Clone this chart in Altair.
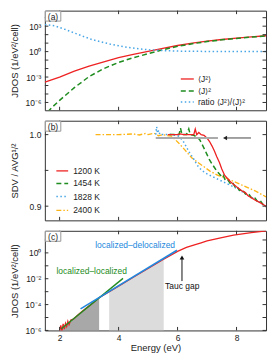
import altair as alt
import pandas as pd

FONT = "Liberation Sans"
W, H = 222, 100
TK = 3.5
FRAME = "#333333"

RED = "#ee2222"
GREEN = "#1e8c1e"
LBLUE = "#48a6e6"
YELLOW = "#fdb515"
CBLUE = "#2288dd"
CGREEN = "#228b22"

x_dom = [1.5, 9.0]
x_ticks = [2, 4, 6, 8]

# ---------------- panel (a) : log10 values ----------------
a_j2_x = [1.5, 1.75, 2.0, 2.5, 3.0, 3.5, 4.0, 4.5, 5.0, 5.5, 6.0, 6.5, 7.0, 7.5, 8.0, 8.5, 9.0]
a_j2_e = [-3.6, -3.3, -3.0, -2.3, -1.72, -1.2, -0.72, -0.33, 0.02, 0.38, 0.72, 1.0, 1.23, 1.43, 1.58, 1.74, 1.87]
a_jsq_x = [1.6, 1.75, 2.0, 2.5, 3.0, 3.5, 4.0, 4.5, 5.0, 5.5, 6.0, 6.5, 7.0, 7.5, 8.0, 8.5, 9.0]
a_jsq_e = [-7.1, -6.55, -5.75, -4.25, -2.95, -2.0, -1.28, -0.72, -0.25, 0.22, 0.62, 0.93, 1.18, 1.39, 1.55, 1.71, 1.85]
a_rat_x = [1.5, 1.85, 2.2, 2.5, 2.8, 3.1, 3.4, 3.7, 4.0, 4.3, 4.7, 5.0, 5.5, 6.0, 7.0, 8.0, 9.0]
a_rat_e = [3.2, 3.03, 2.6, 2.2, 1.8, 1.42, 1.15, 0.9, 0.7, 0.5, 0.32, 0.22, 0.12, 0.06, 0.02, 0.01, 0.0]
a_labels = ["⟨J²⟩", "⟨J⟩²", "ratio ⟨J²⟩/⟨J⟩²"]
a_leg_e = [-3.23, -4.64, -5.94]

# ---------------- panel (b) ----------------
b_labels = ["1200 K", "1454 K", "1828 K", "2400 K"]
b_1200_x = [5.67, 5.9, 6.0, 6.1, 6.2, 6.3, 6.45, 6.55, 6.6, 6.65, 6.72, 6.8, 6.9, 7.0, 7.08, 7.17,
            7.25, 7.33, 7.42, 7.5, 7.6, 7.71, 7.82, 8.0, 8.2, 8.3, 8.38, 8.5, 8.65, 8.8, 9.0]
b_1200_y = [1.0, 1.0, 1.0, 1.001, 1.0, 1.0, 1.0, 1.0, 1.0077, 1.0, 1.003, 1.0, 0.999, 0.995, 0.9907, 0.984,
            0.977, 0.969, 0.961, 0.952, 0.943, 0.938, 0.933, 0.927, 0.921, 0.919, 0.915, 0.912, 0.908, 0.905, 0.900]
b_1454_x = [5.73, 5.95, 6.05, 6.1, 6.15, 6.3, 6.38, 6.43, 6.55, 6.65, 6.75, 6.85, 6.92, 7.0, 7.08, 7.17,
            7.25, 7.33, 7.42, 7.5, 7.55, 7.62, 7.7, 7.78, 7.85, 7.95, 8.0, 8.1, 8.2, 8.3, 8.4, 8.5,
            8.6, 8.7, 8.8, 8.9, 9.0]
b_1454_y = [1.0, 1.0, 1.0, 1.009, 1.0, 1.0, 1.008, 1.0, 0.999, 0.997, 0.993, 0.985, 0.979, 0.972, 0.965, 0.959,
            0.954, 0.949, 0.945, 0.941, 0.943, 0.936, 0.937, 0.932, 0.934, 0.927, 0.928, 0.922, 0.923, 0.917, 0.918, 0.912,
            0.913, 0.907, 0.908, 0.902, 0.899]
b_1828_x = [5.26, 5.29, 5.32, 5.36, 5.4, 5.6, 5.8, 6.02, 6.1, 6.19, 6.27, 6.35, 6.43, 6.52, 6.6, 6.69,
            6.8, 6.92, 7.05, 7.2, 7.4, 7.6, 7.8, 8.0, 8.2, 8.4, 8.6, 8.8, 9.0]
b_1828_y = [1.0, 1.011, 1.002, 1.006, 1.0, 1.0, 1.0, 0.998, 0.995, 0.991, 0.985, 0.979, 0.973, 0.968, 0.962, 0.956,
            0.951, 0.947, 0.944, 0.941, 0.937, 0.933, 0.929, 0.925, 0.920, 0.915, 0.910, 0.905, 0.900]
b_2400_x = [3.22, 3.6, 4.0, 4.3, 4.5, 4.7, 4.9, 5.0, 5.2, 5.35, 5.5, 5.6, 5.79, 6.02, 6.24, 6.47,
            6.69, 6.9, 7.1, 7.37, 7.6, 7.82, 8.1, 8.38, 8.65, 9.0]
b_2400_y = [1.0, 1.0, 1.0, 1.0005, 1.001, 0.9995, 1.0015, 1.0, 1.002, 0.9985, 1.0, 0.999, 0.998, 0.989, 0.979, 0.968,
            0.961, 0.955, 0.949, 0.943, 0.940, 0.936, 0.931, 0.926, 0.921, 0.913]
b_leg_y = [0.9493, 0.9318, 0.9134, 0.8940]
b_bar_x = [5.26, 7.37]
b_bar_y = 0.9953
b_arrow_x = [7.54, 8.49]

# ---------------- panel (c) : log10 values ----------------
c_x = [1.97, 2.0, 2.04, 2.08, 2.12, 2.16, 2.2, 2.24, 2.28, 2.32, 2.38, 2.45, 2.5, 2.6, 2.8, 3.0, 3.2, 3.34,
       3.6, 4.0, 4.5, 5.0, 5.5, 6.0, 6.3, 6.6, 6.8, 7.0, 7.5, 7.9, 8.5, 9.0]
c_e = [-6.3, -6.1, -5.6, -6.05, -5.5, -5.9, -5.45, -5.7, -5.3, -5.55, -5.2, -5.15, -5.05, -4.85, -4.45, -4.1, -3.75, -3.47,
       -3.12, -2.57, -1.89, -1.21, -0.53, 0.12, 0.42, 0.64, 0.78, 0.92, 1.18, 1.38, 1.56, 1.7]
c_dark_x = [2.0, 2.4, 2.8, 3.0, 3.34]
c_dark_e = [-6.0, -5.25, -4.49, -4.1, -3.47]
c_light_x = [3.68, 4.0, 4.5, 5.0, 5.53]
c_light_e = [-3.01, -2.57, -1.89, -1.21, -0.49]
c_ll_x = [2.06, 4.15]
c_ll_e = [-5.87, -1.97]
c_ld_x = [2.71, 5.98]
c_ld_e = [-4.33, 0.2]
c_texts = ["localized–delocalized", "localized–localized", "Tauc gap"]
c_text_x = [4.56, 3.09, 6.16]
c_text_e = [0.59, -1.41, -2.56]
c_tauc_x = 6.15
c_tauc_e = [-2.18, -0.15]


def p10(lst):
    return [10.0 ** v for v in lst]


class Panel:
    def __init__(self, yscale, yaxis, xaxis=None):
        self.xs = alt.Scale(domain=x_dom, nice=False, zero=False)
        self.ys = yscale
        self.yaxis = yaxis
        self.xaxis = xaxis
        self.layers = []

    def X(self, f):
        return alt.X(f, scale=self.xs, axis=self.xaxis)

    def Y(self, f):
        return alt.Y(f, scale=self.ys, axis=self.yaxis)

    def line(self, xs, ys, color, width, dash=None):
        df = pd.DataFrame({"x": xs, "y": ys})
        kw = dict(color=color, strokeWidth=width, clip=True)
        if dash is not None:
            kw["strokeDash"] = dash
        self.layers.append(alt.Chart(df).mark_line(**kw).encode(x=self.X("x:Q"), y=self.Y("y:Q")))

    def area(self, xs, ys, base, color):
        df = pd.DataFrame({"x": xs, "y": ys, "b": [base] * len(xs)})
        self.layers.append(alt.Chart(df).mark_area(color=color, opacity=1, clip=True).encode(
            x=self.X("x:Q"), y=self.Y("y:Q"), y2="b:Q"))

    def hrule(self, x0, x1, y, color, width, dash=None):
        d = pd.DataFrame({"x": [x0], "x2": [x1], "y": [y]})
        kw = dict(color=color, strokeWidth=width)
        if dash is not None:
            kw["strokeDash"] = dash
        self.layers.append(alt.Chart(d).mark_rule(**kw).encode(x=self.X("x:Q"), x2="x2:Q", y=self.Y("y:Q")))

    def vrule(self, x, y0, y1, color, width):
        d = pd.DataFrame({"x": [x], "y": [y0], "y2": [y1]})
        self.layers.append(alt.Chart(d).mark_rule(color=color, strokeWidth=width).encode(
            x=self.X("x:Q"), y=self.Y("y:Q"), y2="y2:Q"))

    def point(self, x, y, shape, color, size):
        d = pd.DataFrame({"x": [x], "y": [y]})
        self.layers.append(alt.Chart(d).mark_point(shape=shape, filled=True, size=size, color=color, opacity=1).encode(
            x=self.X("x:Q"), y=self.Y("y:Q")))

    def text(self, x, y, t, color, align="center"):
        d = pd.DataFrame({"x": [x], "y": [y], "t": [t]})
        self.layers.append(alt.Chart(d).mark_text(font=FONT, fontSize=8.5, color=color, align=align,
                                                  baseline="middle").encode(
            x=self.X("x:Q"), y=self.Y("y:Q"), text="t:N"))

    def ticks(self, yticks):
        dx = pd.DataFrame({"x": x_ticks})
        dy = pd.DataFrame({"y": yticks})
        st = dict(color=FRAME, strokeWidth=1)
        self.layers += [
            alt.Chart(dx).mark_rule(**st).encode(x=self.X("x:Q"), y=alt.value(0), y2=alt.value(TK)),
            alt.Chart(dx).mark_rule(**st).encode(x=self.X("x:Q"), y=alt.value(H), y2=alt.value(H - TK)),
            alt.Chart(dy).mark_rule(**st).encode(y=self.Y("y:Q"), x=alt.value(0), x2=alt.value(TK)),
            alt.Chart(dy).mark_rule(**st).encode(y=self.Y("y:Q"), x=alt.value(W), x2=alt.value(W - TK)),
        ]

    def label(self, t):
        d = pd.DataFrame({"t": [t]})
        self.layers.append(alt.Chart(d).mark_rect(fill="white", stroke="#999999", strokeWidth=1).encode(
            x=alt.value(0.5), x2=alt.value(16), y=alt.value(0.5), y2=alt.value(10.5)))
        self.layers.append(alt.Chart(d).mark_text(font=FONT, fontSize=8.5, color="#222222").encode(
            text="t:N", x=alt.value(8.2), y=alt.value(6)))

    def chart(self):
        return alt.layer(*self.layers).properties(width=W, height=H)


TITLE_X = -30.5
yaxis_common = dict(titleX=TITLE_X, titleY=H / 2, titleAngle=-90, titleBaseline="middle",
                    labelPadding=4, ticks=False, domain=False, grid=False)

# ---------------- build (a) ----------------
pa = Panel(alt.Scale(type="log", domain=[1.2e-7, 6.8e4], nice=False),
           alt.Axis(values=[1e-6, 1e-3, 1, 1e3],
                    labelExpr="datum.value >= 100 ? '10³' : datum.value >= 0.5 ? '10⁰' : datum.value >= 5e-4 ? '10⁻³' : '10⁻⁶'",
                    title="JDOS (1/eV²/cell)", **yaxis_common))
a_styles = [(RED, 1.3, None), (GREEN, 1.5, [5, 3]), (LBLUE, 1.5, [1.5, 2.5])]
pa.line(a_j2_x, p10(a_j2_e), *a_styles[0])
pa.line(a_jsq_x, p10(a_jsq_e), *a_styles[1])
pa.line(a_rat_x, p10(a_rat_e), *a_styles[2])
for lab, ev, (c, w, d) in zip(a_labels, a_leg_e, a_styles):
    pa.hrule(6.11, 6.55, 10 ** ev, c, w, d)
    pa.text(6.69, 10 ** ev, lab, "#222222", align="left")
pa.ticks(p10([-6, -5, -4, -3, -2, -1, 0, 1, 2, 3, 4]))
pa.label("(a)")

# ---------------- build (b) ----------------
pb = Panel(alt.Scale(domain=[0.8802, 1.0194], nice=False, zero=False),
           alt.Axis(values=[0.9, 1.0], format=".1f", title="SDV / AVG¹/²", **yaxis_common))
b_styles = [(RED, 1.3, None), (GREEN, 1.5, [5, 3]), (LBLUE, 1.5, [1.5, 2.5]), (YELLOW, 1.3, [5, 2, 1.5, 2])]
pb.line(b_2400_x, b_2400_y, *b_styles[3])
pb.line(b_1828_x, b_1828_y, *b_styles[2])
pb.line(b_1454_x, b_1454_y, *b_styles[1])
pb.line(b_1200_x, b_1200_y, *b_styles[0])
pb.hrule(b_bar_x[0], b_bar_x[1], b_bar_y, "#aaaaaa", 2.2)
pb.hrule(b_arrow_x[0] + 0.08, b_arrow_x[1], b_bar_y, "#444444", 1)
pb.point(b_arrow_x[0] + 0.07, b_bar_y, "triangle-left", "#222222", 22)
for lab, yv, (c, w, d) in zip(b_labels, b_leg_y, b_styles):
    pb.hrule(1.89, 2.29, yv, c, w, d)
    pb.text(2.46, yv, lab, "#222222", align="left")
pb.ticks([0.9, 0.95, 1.0])
pb.label("(b)")

# ---------------- build (c) ----------------
pc = Panel(alt.Scale(type="log", domain=[1e-6, 51], nice=False),
           alt.Axis(values=[1e-6, 1e-4, 1e-2, 1],
                    labelExpr="datum.value >= 0.5 ? '10⁰' : datum.value >= 5e-3 ? '10⁻²' : datum.value >= 5e-5 ? '10⁻⁴' : '10⁻⁶'",
                    title="JDOS (1/eV²/cell)", **yaxis_common),
           alt.Axis(values=x_ticks, format="d", title="Energy (eV)",
                    labelPadding=3, titlePadding=1, ticks=False, domain=False, grid=False))
pc.area(c_dark_x, p10(c_dark_e), 1e-6, "#a8a8a8")
pc.area(c_light_x, p10(c_light_e), 1e-6, "#dcdcdc")
pc.line(c_x, p10(c_e), RED, 1.3)
pc.line(c_ll_x, p10(c_ll_e), CGREEN, 1.4)
pc.line(c_ld_x, p10(c_ld_e), CBLUE, 1.6)
pc.vrule(c_tauc_x, 10 ** c_tauc_e[0], 10 ** (c_tauc_e[1] - 0.2), "#111111", 1)
pc.point(c_tauc_x, 10 ** (c_tauc_e[1] - 0.2), "triangle-up", "#111111", 22)
for t, tx, te, tc in zip(c_texts, c_text_x, c_text_e, [CBLUE, CGREEN, "#111111"]):
    pc.text(tx, 10 ** te, t, tc)
pc.ticks(p10([-6, -5, -4, -3, -2, -1, 0, 1]))
pc.label("(c)")

chart = alt.vconcat(pa.chart(), pb.chart(), pc.chart(), spacing=8.5).properties(
    padding={"left": 0, "top": 1, "right": 5, "bottom": 0}
).configure_view(stroke=FRAME, strokeWidth=1).configure_axis(
    labelFont=FONT, titleFont=FONT, labelFontSize=8.5, titleFontSize=9.5,
    titleFontWeight="normal", labelColor="#222222", titleColor="#222222"
)

chart.save("out.html", embed_options={"renderer": "svg", "actions": False})
